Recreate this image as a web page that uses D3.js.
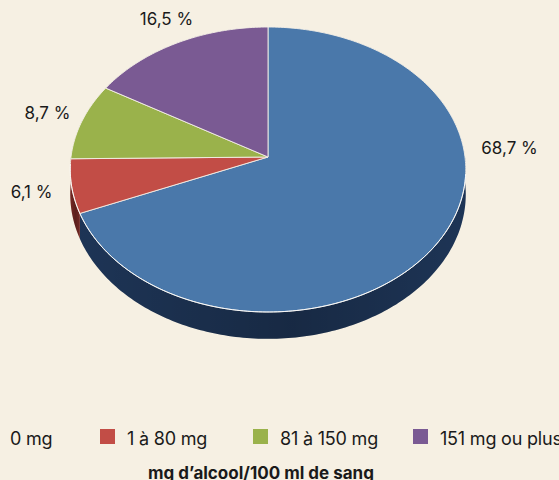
<!DOCTYPE html>
<html>
<head>
<meta charset="utf-8">
<script src="https://cdn.jsdelivr.net/npm/d3@7"></script>
<style>
  html, body { margin: 0; padding: 0; background: #f6f0e3; }
  svg { display: block; font-family: Inter, "Open Sans", sans-serif; }
</style>
</head>
<body>
<div id="container"></div>
<script>
// data
const categories = ['0 mg', '1 à 80 mg', '81 à 150 mg', '151 mg ou plus'];
const values = [68.7, 6.1, 8.7, 16.5];
const labels = ['68,7 %', '6,1 %', '8,7 %', '16,5 %'];
const axisTitle = 'mg d’alcool/100 ml de sang';

const colors = ['#4a78aa', '#c24d46', '#9ab24b', '#7a5a93'];
const sideColors = ['#1f375a', '#7a2a26', '#5d6e2a', '#4a3660'];

// where the labels sit (degrees clockwise from top, radius factor)
const labelAt = [[87.5, 1.233], [258, 1.2], [285, 1.19], [332, 1.2]];
const legendX = [-17, 100, 253, 413];

const width = 559, height = 480;
const cx = 268, cy = 157, R = 197, A = 141.4, k = 0.0877, T = 24.5;

// perspective projection of a point on the tilted disk
function proj(theta, r, dz) {
  const u = r * Math.sin(theta), v = -r * Math.cos(theta);
  const s = 1 / (1 - k * v);
  return [cx + R * u * s, cy + A * v * s + (dz || 0) * s];
}
function arcPts(a0, a1, r, dz) {
  const n = Math.max(2, Math.ceil(Math.abs(a1 - a0) / (Math.PI / 180)));
  return d3.range(n + 1).map(i => proj(a0 + (a1 - a0) * i / n, r, dz));
}

const pie = d3.pie().sort(null).value(d => d).startAngle(0).endAngle(2 * Math.PI);
const arcs = pie(values);
const line = d3.line();

const svg = d3.select('#container')
  .append('svg')
  .attr('width', width)
  .attr('height', height);

const defs = svg.append('defs');
const g = defs.append('linearGradient').attr('id', 'sideShade')
  .attr('x1', 0).attr('x2', 1).attr('y1', 0).attr('y2', 0);
g.append('stop').attr('offset', '0%').attr('stop-color', '#000').attr('stop-opacity', 0.05);
g.append('stop').attr('offset', '55%').attr('stop-color', '#000').attr('stop-opacity', 0.25);
g.append('stop').attr('offset', '100%').attr('stop-color', '#000').attr('stop-opacity', 0.05);

const lo = Math.PI / 2, hi = 3 * Math.PI / 2;

// sides (front half only)
arcs.forEach((d, i) => {
  const a0 = Math.max(d.startAngle, lo), a1 = Math.min(d.endAngle, hi);
  if (a1 <= a0) return;
  const pts = arcPts(a0, a1, 1, 0).concat(arcPts(a1, a0, 1, T));
  svg.append('path').attr('d', line(pts) + 'Z').attr('fill', sideColors[i]);
  svg.append('path').attr('d', line(pts) + 'Z').attr('fill', 'url(#sideShade)');
});

// top faces
svg.selectAll('path.slice')
  .data(arcs)
  .enter()
  .append('path')
  .attr('class', 'slice')
  .attr('d', d => line([[cx, cy]].concat(arcPts(d.startAngle, d.endAngle, 1, 0))) + 'Z')
  .attr('fill', (d, i) => colors[i])
  .attr('stroke', '#f4efe6')
  .attr('stroke-width', 0.9)
  .attr('stroke-linejoin', 'round');

// light rim along front edge
svg.append('path')
  .attr('d', line(arcPts(lo + 0.12, hi - 0.05, 1, 0)))
  .attr('fill', 'none')
  .attr('stroke', '#ffffff')
  .attr('stroke-opacity', 0.8)
  .attr('stroke-width', 1);

// value labels
svg.selectAll('text.val')
  .data(arcs)
  .enter()
  .append('text')
  .attr('class', 'val')
  .attr('x', (d, i) => proj(labelAt[i][0] * Math.PI / 180, labelAt[i][1])[0])
  .attr('y', (d, i) => proj(labelAt[i][0] * Math.PI / 180, labelAt[i][1])[1])
  .attr('text-anchor', 'middle')
  .attr('dominant-baseline', 'middle')
  .attr('font-size', 17)
  .attr('fill', '#1a1a1a')
  .text((d, i) => labels[i]);

// legend
const legend = svg.append('g').attr('transform', 'translate(0, 429)');
categories.forEach((c, i) => {
  legend.append('rect')
    .attr('x', legendX[i]).attr('y', 0)
    .attr('width', 15).attr('height', 15)
    .attr('fill', colors[i]);
  legend.append('text')
    .attr('x', legendX[i] + 27).attr('y', 15.5)
    .attr('font-size', 18)
    .attr('letter-spacing', -0.2)
    .attr('fill', '#1a1a1a')
    .text(c);
});

svg.append('text')
  .attr('x', 261).attr('y', 479)
  .attr('text-anchor', 'middle')
  .attr('font-size', 17)
  .attr('font-weight', 'bold')
  .attr('fill', '#1a1a1a')
  .text(axisTitle);
</script>
</body>
</html>
